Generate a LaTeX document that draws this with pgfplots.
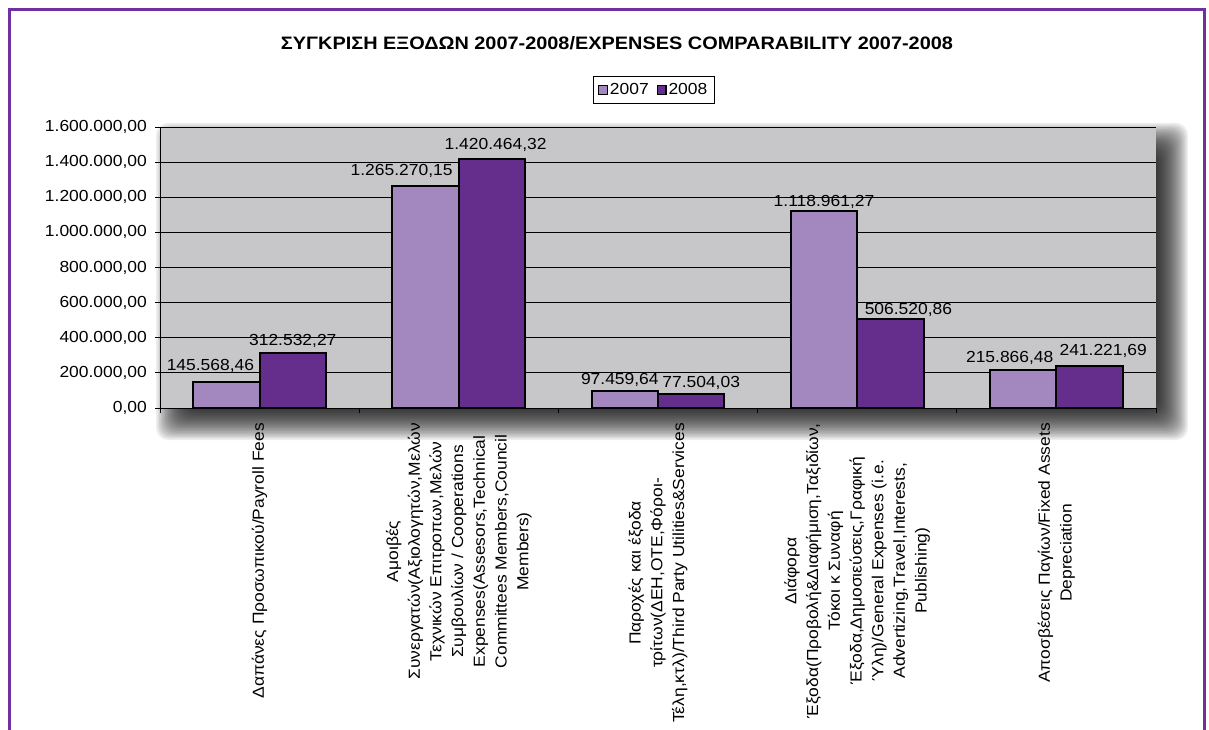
\documentclass[border=0pt]{standalone}
\usepackage{pgfplots}
\pgfplotsset{compat=1.18}
\usepackage{pgfplotstable}
\usepackage{graphicx}
\usepackage{fontspec}
\setmainfont{Liberation Sans}[FakeStretch=1.09]

\definecolor{frame}{RGB}{112,48,160}
\definecolor{cA}{RGB}{162,136,190}
\definecolor{cB}{RGB}{101,45,140}
\definecolor{plotbg}{RGB}{199,199,201}

\pgfplotstableread{
x y dx dy lab
0 145568.46 -16 12 145.568,46
1 1265270.15 -24 10.7 1.265.270,15
2 97459.64 -5 6.7 97.459,64
3 1118961.27 0 5.3 1.118.961,27
4 215866.48 -13.5 7.3 215.866,48
}\dataA
\pgfplotstableread{
x y dx dy lab
0 312532.27 0 8 312.532,27
1 1420464.32 3.6 9 1.420.464,32
2 77504.03 10 7 77.504,03
3 506520.86 18 5 506.520,86
4 241221.69 13.6 10 241.221,69
}\dataB

\begin{document}
\begin{tikzpicture}[x=1pt,y=1pt]
\path[use as bounding box] (0,0) rectangle (1209,729);
\begin{scope}
\clip (0,0) rectangle (1209,729);
\draw[frame, line width=3pt] (9,-20) -- (9,719) -- (1204,719) -- (1204,-20);
% soft shadow of the plot area
\foreach \k in {0,...,23} {
  \pgfmathsetmacro\e{18-1.5*\k}
  \fill[black, opacity=0.065, rounded corners=12pt] (174-\e,307-\e) rectangle (1170+\e,588+\e);
}
\end{scope}
\node[anchor=base, font=\fontsize{18}{20}\selectfont\bfseries] at (617,679)
  {\resizebox{672pt}{\height}{ΣΥΓΚΡΙΣΗ ΕΞΟΔΩΝ 2007-2008/EXPENSES COMPARABILITY 2007-2008}};
\begin{axis}[
  at={(160pt,321pt)}, anchor=south west,
  width=996pt, height=281pt, scale only axis,
  clip=false,
  xmin=-0.5, xmax=4.5, ymin=0, ymax=1600000,
  ybar=0pt, bar width=66.4pt,
  axis background/.style={fill=plotbg},
  axis x line*=bottom, axis y line*=left,
  axis line style={black, line width=0.8pt},
  ytick={0,200000,...,1600000},
  ymajorgrids, grid style={black, line width=0.8pt},
  scaled y ticks=false,
  tick align=outside, major tick length=5pt, minor tick length=5pt,
  tick style={black, line width=0.8pt},
  yticklabel style={font=\fontsize{16}{19}\selectfont, inner sep=0pt, xshift=-8pt,
    /pgf/number format/.cd, fixed, fixed zerofill, precision=2, use comma, 1000 sep={.}, assume math mode=true},
  xtick={0,1,2,3,4},
  minor xtick={-0.5,0.5,1.5,2.5,3.5,4.5},
  major x tick style={draw=none},
  xticklabels={
    {Δαπάνες Προσωπικού/Payroll Fees},
    {Αμοιβές\\Συνεργατών(Αξιολογητών,Μελών\\Τεχνικών Επιτροπων,Μελών\\Συμβουλίων / Cooperations\\Expenses(Assesors,Technical\\Committees Members,Council\\Members)},
    {Παροχές και έξοδα\\τρίτων(ΔΕΗ,ΟΤΕ,Φόροι-\\Τέλη,κτλ)/Third Party Utilities\&Services},
    {Διάφορα\\Έξοδα(Προβολή\&Διαφήμιση,Ταξιδίων,\\Τόκοι κ Συναφή\\Έξοδα,Δημοσιεύσεις,Γραφική\\Ύλη)/General Expenses (i.e.\\Advertizing,Travel,Interests,\\Publishing)},
    {Αποσβέσεις Παγίων/Fixed Assets\\Depreciation}},
  xticklabel style={yshift=-10pt, rotate=90, anchor=east, align=center, inner sep=0pt,
    font=\fontsize{16}{21.7}\selectfont},
  legend style={at={(0.4957,1.1317)}, anchor=center, draw=black, line width=0.8pt,
    font=\fontsize{16}{19}\selectfont, inner xsep=5pt, inner ysep=5pt,
    /tikz/every even column/.append style={column sep=6pt}},
  legend columns=2,
  point meta=explicit symbolic,
]
\addplot[fill=cA, draw=black, line width=2pt,
  legend image code/.code={\draw[fill=cA, draw=black, line width=1.2pt] (0pt,-4.3pt) rectangle (8.6pt,4.3pt);},
  nodes near coords,
  visualization depends on={\thisrow{dx}\as\dx},
  visualization depends on={\thisrow{dy}\as\dy},
  every node near coord/.append style={xshift=\dx pt, yshift=\dy pt, anchor=base, inner sep=0pt,
    font=\fontsize{16}{19}\selectfont, text=black}]
  table[x=x,y=y,meta=lab]{\dataA};
\addplot[fill=cB, draw=black, line width=2pt,
  legend image code/.code={\draw[fill=cB, draw=black, line width=1.2pt] (0pt,-4.3pt) rectangle (8.6pt,4.3pt);},
  nodes near coords,
  visualization depends on={\thisrow{dx}\as\dx},
  visualization depends on={\thisrow{dy}\as\dy},
  every node near coord/.append style={xshift=\dx pt, yshift=\dy pt, anchor=base, inner sep=0pt,
    font=\fontsize{16}{19}\selectfont, text=black}]
  table[x=x,y=y,meta=lab]{\dataB};
\legend{2007,2008}
\end{axis}
\end{tikzpicture}
\end{document}
